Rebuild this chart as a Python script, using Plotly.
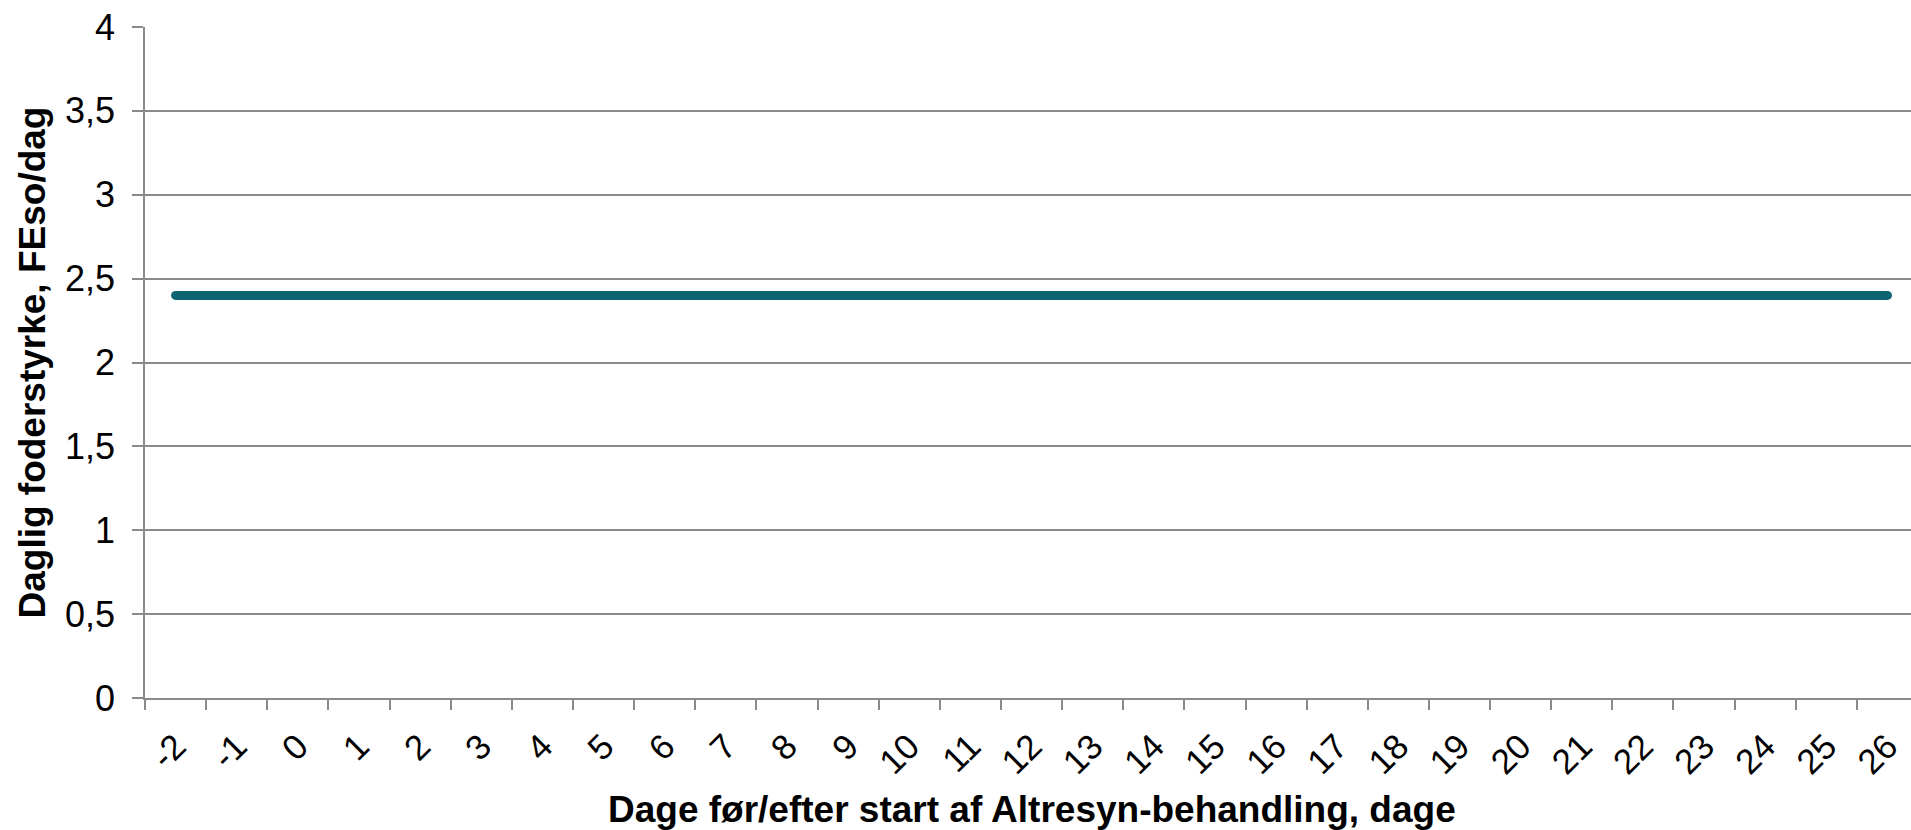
import plotly.graph_objects as go

# Days relative to the start of treatment and the daily feed level (FEso/day)
days = [str(d) for d in range(-2, 27)]
feed_level = [2.4] * len(days)

y_ticks = [0, 0.5, 1, 1.5, 2, 2.5, 3, 3.5, 4]

x_title = "Dage før/efter start af Altresyn-behandling, dage"
y_title = "Daglig foderstyrke, FEso/dag"

line_color = "#0b6470"
grid_color = "#8a8a8a"
font_family = "Liberation Sans, Arial, sans-serif"

fig = go.Figure()
fig.add_trace(
    go.Scatter(
        x=days,
        y=feed_level,
        mode="lines+markers",
        line=dict(color=line_color, width=9),
        marker=dict(color=line_color, size=9),
        hoverinfo="x+y",
        showlegend=False,
    )
)

fig.update_layout(
    width=1911,
    height=830,
    margin=dict(l=145, r=0, t=27, b=132),
    paper_bgcolor="white",
    plot_bgcolor="white",
    separators=",.",
    font=dict(family=font_family, color="black"),
)

fig.update_xaxes(
    type="category",
    range=[-0.5, 28.385],
    tickson="boundaries",
    ticks="outside",
    ticklen=10,
    tickwidth=1.5,
    tickcolor=grid_color,
    tickangle=-45,
    tickfont=dict(size=35, family=font_family),
    ticklabelstandoff=12,
    showline=True,
    linecolor=grid_color,
    linewidth=1.5,
    showgrid=False,
    zeroline=False,
)

fig.update_yaxes(
    range=[0, 4],
    tickvals=y_ticks,
    ticks="outside",
    ticklen=11,
    tickwidth=1.5,
    tickcolor=grid_color,
    tickfont=dict(size=36, family=font_family),
    ticklabelstandoff=10,
    showline=True,
    linecolor=grid_color,
    linewidth=1.5,
    showgrid=True,
    gridcolor=grid_color,
    gridwidth=1.5,
    zeroline=False,
)

# Axis titles
title_font = dict(size=37, family=font_family, color="black", weight="bold")
fig.add_annotation(
    text=x_title, font=title_font, showarrow=False,
    xref="paper", yref="paper", x=0.502, y=0,
    xanchor="center", yanchor="middle", yshift=-111,
)
fig.add_annotation(
    text=y_title, font=title_font, showarrow=False, textangle=-90,
    xref="paper", yref="paper", x=0, y=0.5,
    xanchor="center", yanchor="middle", xshift=-113,
)

fig.write_html("out.html")
